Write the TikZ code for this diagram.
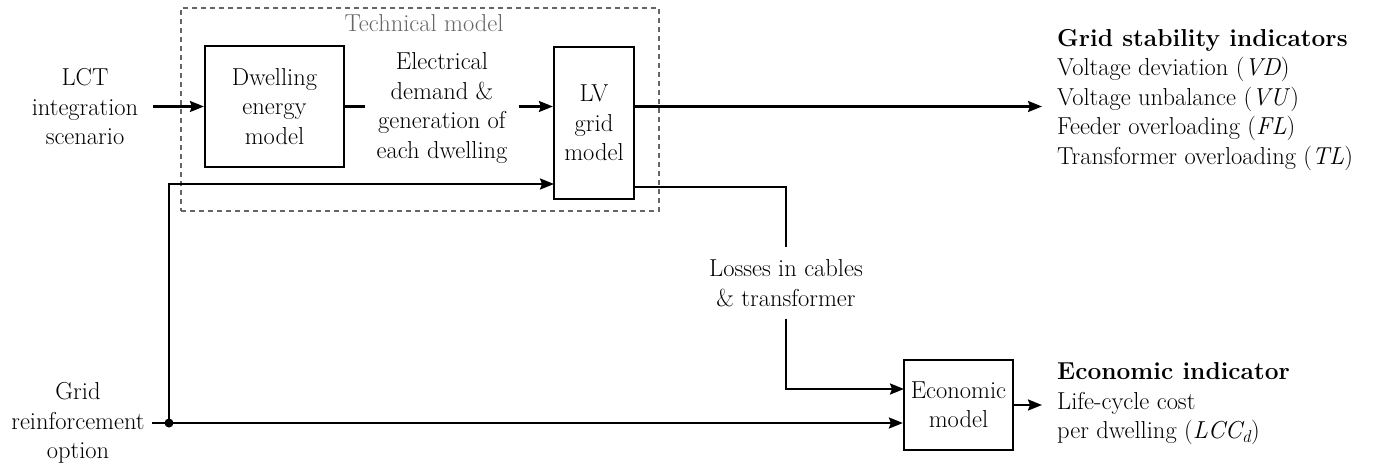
\documentclass[tikz,border=0pt]{standalone}
\usepackage{fontspec}
\usetikzlibrary{arrows.meta}
\definecolor{tgray}{HTML}{666666}
\begin{document}
\begin{tikzpicture}[x=1pt,y=-1pt,
  every node/.style={font=\rmfamily\fontsize{24.5}{29.5}\selectfont, inner sep=0pt, align=center},
  box/.style={draw, line width=2.2pt},
  ln/.style={line width=2.2pt},
  arr/.style={line width=2.2pt, -{Stealth[length=14pt,width=11pt,inset=2pt]}},
  techbox/.style={draw=tgray, line width=1.6pt, dash pattern=on 5pt off 4pt},
  ind/.style={align=left, anchor=west, inner xsep=15pt}
]
\useasboundingbox (0,0) rectangle (1376,468);

% technical model frame
\node[techbox, minimum width=478pt, minimum height=203pt] (tech) at (420,109.5) {};
\node[text=tgray] (techlbl) at (424,23) {Technical model};

% boxes
\node[box, minimum width=139pt, minimum height=121pt] (dw) at (274.5,106.5) {Dwelling\\energy\\model};
\node[box, minimum width=80pt, minimum height=152pt] (lv) at (594,123) {LV\\grid\\model};
\node[box, minimum width=109pt, minimum height=90pt] (eco) at (958.5,405) {Economic\\model};

% texts
\node[inner xsep=15pt] (lct) at (85,107) {LCT\\integration\\scenario};
\node[inner xsep=11pt] (elec) at (442,108) {Electrical\\demand \&\\generation of\\each dwelling};
\node[inner xsep=7pt] (gro) at (78,423) {Grid\\reinforcement\\option};
\node[inner ysep=12pt] (loss) at (786,283) {Losses in cables\\\& transformer};
\node[ind] (gsi) at (1042,100) {\textbf{Grid stability indicators}\\Voltage deviation (\textit{VD})\\Voltage unbalance (\textit{VU})\\Feeder overloading (\textit{FL})\\Transformer overloading (\textit{TL})};
\node[ind] (eci) at (1042,404) {\textbf{Economic indicator}\\Life-cycle cost\\per dwelling (\textit{LCC\textsubscript{d}})};

% junction
\coordinate (j) at (169,423);
\coordinate (lvin) at (554,184);
\coordinate (lvlo) at (634,187);
\coordinate (ecoup) at (904,389);

% connectors
\draw[arr] (lct.east |- dw.west) -- (dw.west);
\draw[ln] (dw.east) -- (elec.west |- dw.east);
\draw[arr] (elec.east |- dw.east) -- (lv.west |- dw.east);
\draw[arr] (lv.east |- dw.east) -- (gsi.west |- dw.east);
\draw[arr] (j) |- (lvin);
\draw[ln] (lvlo) -| (loss.north);
\draw[arr] (loss.south) |- (ecoup);
\draw[arr] (gro.east) -- (eco.west |- gro.east);
\fill (j) circle (4.5pt);
\draw[arr] (eco.east) -- (eci.west |- eco.east);
\end{tikzpicture}
\end{document}
